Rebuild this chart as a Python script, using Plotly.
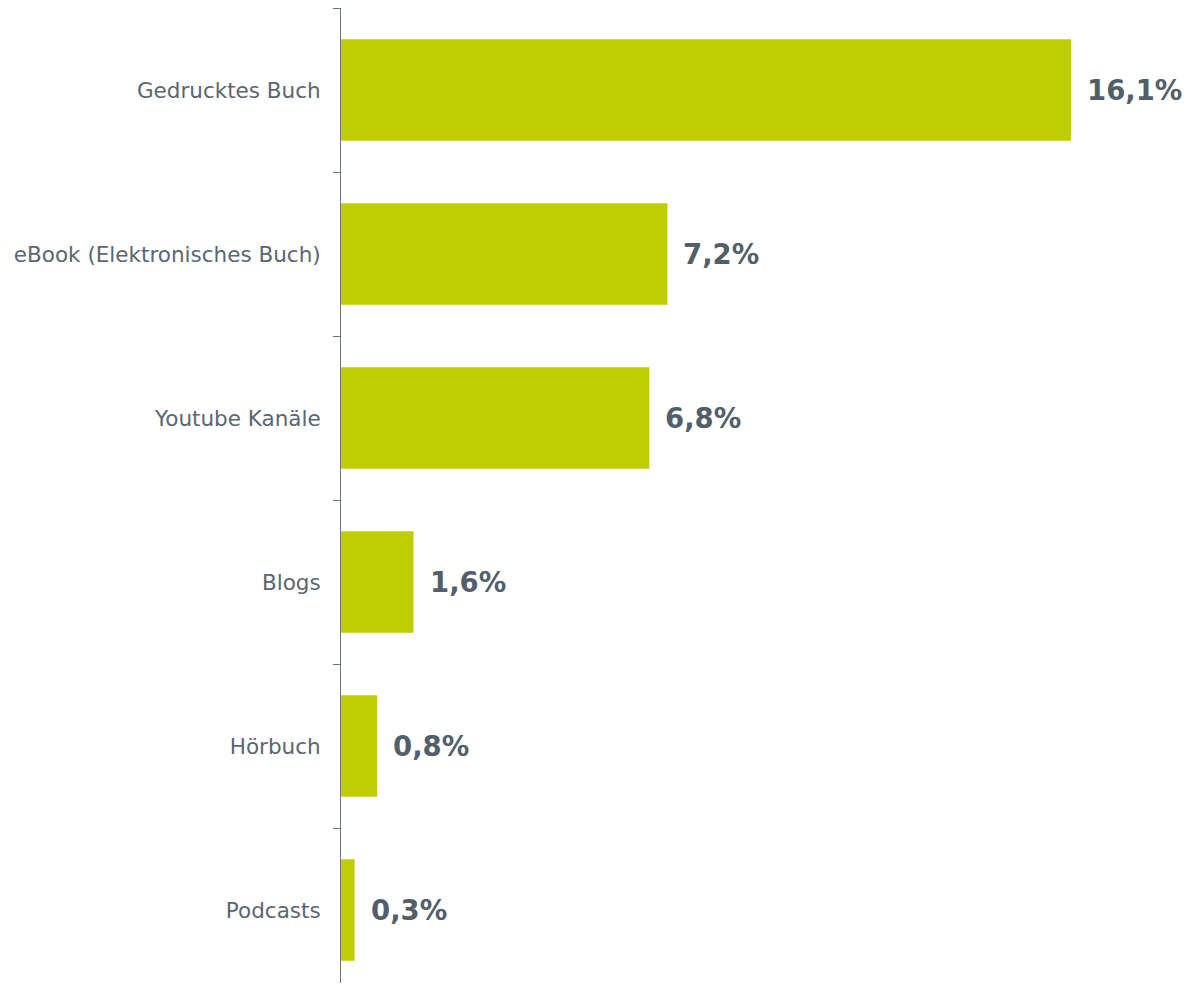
import plotly.graph_objects as go

categories = ["Gedrucktes Buch", "eBook (Elektronisches Buch)", "Youtube Kanäle", "Blogs", "Hörbuch", "Podcasts"]
values = [16.1, 7.2, 6.8, 1.6, 0.8, 0.3]
labels = ["16,1%", "7,2%", "6,8%", "1,6%", "0,8%", "0,3%"]

fig = go.Figure()
fig.add_trace(go.Bar(
    x=values, y=categories, orientation="h",
    marker=dict(color="#BFCE00", line=dict(width=0)),
    width=0.62, hoverinfo="skip",
))
for v, c, t in zip(values, categories, labels):
    fig.add_annotation(x=v, y=c, text=t, showarrow=False, xanchor="left", yanchor="middle",
                       xshift=14, font=dict(family="DejaVu Sans", size=27.5, color="#525F6B", weight="bold"))

fig.update_layout(
    width=1176, height=975,
    margin=dict(l=333, r=0, t=0, b=0),
    plot_bgcolor="white", paper_bgcolor="white",
    showlegend=False,
    xaxis=dict(range=[0, 843 / 45.34], visible=False, fixedrange=True),
    yaxis=dict(
        type="category", autorange=False, range=[-0.5 + 975 / 164, -0.5],
        tickson="boundaries", ticks="outside", ticklen=7, tickcolor="#6B7580", tickwidth=1,
        showline=True, linecolor="#6B7580", linewidth=1,
        showgrid=False, zeroline=False,
        tickfont=dict(family="DejaVu Sans", size=21.5, color="#5A6670"),
        ticklabelstandoff=15,
    ),
)
fig.write_html("out.html")
